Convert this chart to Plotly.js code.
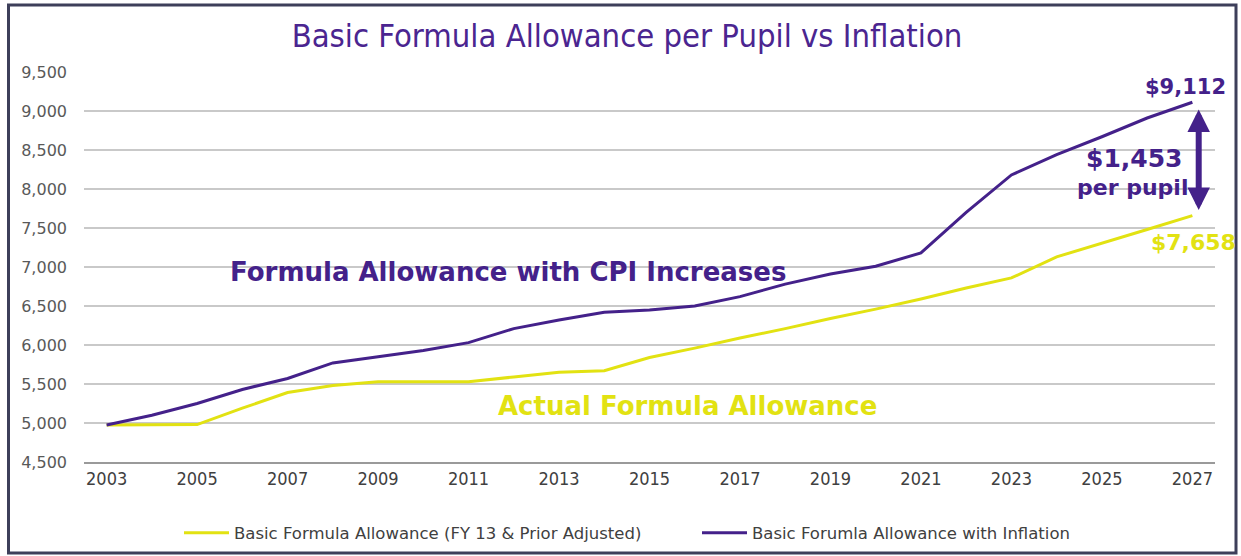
<!DOCTYPE html>
<html>
<head>
<meta charset="utf-8">
<script src="https://cdn.plot.ly/plotly-3.0.1.min.js"></script>
<style>
  html, body { margin: 0; padding: 0; background: #ffffff; }
  #chart { width: 1241px; height: 556px; }
</style>
</head>
<body>
<div id="chart"></div>
<script>
// ---- Data ----
const years = [2003, 2004, 2005, 2006, 2007, 2008, 2009, 2010, 2011, 2012, 2013, 2014, 2015,
               2016, 2017, 2018, 2019, 2020, 2021, 2022, 2023, 2024, 2025, 2026, 2027];
const actualAllowance = [4975, 4980, 4980, 5190, 5390, 5480, 5530, 5530, 5530, 5590, 5650, 5670, 5840,
                         5960, 6090, 6210, 6340, 6460, 6590, 6730, 6860, 7130, 7300, 7480, 7658];
const inflationAllowance = [4975, 5100, 5250, 5430, 5570, 5770, 5850, 5930, 6030, 6210, 6320, 6420, 6450,
                            6500, 6620, 6780, 6910, 7010, 7180, 7700, 8180, 8440, 8670, 8910, 9112];
const seriesNames = ['Basic Formula Allowance (FY 13 & Prior Adjusted)', 'Basic Forumla Allowance with Inflation'];
const yTicks = [4500, 5000, 5500, 6000, 6500, 7000, 7500, 8000, 8500, 9000, 9500];
const xTicks = [2003, 2005, 2007, 2009, 2011, 2013, 2015, 2017, 2019, 2021, 2023, 2025, 2027];

const PURPLE = '#44218a';
const YELLOW = '#e2e212';
const SANS = '"DejaVu Sans", Verdana, sans-serif';
const NARROW = '"Liberation Sans Narrow", "DejaVu Sans Condensed", sans-serif';

// layout geometry
const W = 1241, H = 556;
const M = { l: 84, r: 26, t: 72, b: 94, autoexpand: false };
const PW = W - M.l - M.r, PH = H - M.t - M.b;
const px = x => (x - M.l) / PW;
const py = y => (H - M.b - y) / PH;

const traces = [
  {
    x: years, y: actualAllowance, name: seriesNames[0], type: 'scatter', mode: 'lines',
    line: { color: YELLOW, width: 3 }, legend: 'legend'
  },
  {
    x: years, y: inflationAllowance, name: seriesNames[1], type: 'scatter', mode: 'lines',
    line: { color: PURPLE, width: 3 }, legend: 'legend2'
  }
];

const legendStyle = (xpix) => ({
  orientation: 'h',
  x: px(xpix), xanchor: 'left',
  y: py(533), yanchor: 'middle',
  font: { family: SANS, size: 16.5, color: '#404040' },
  itemwidth: 45,
  tracegroupgap: 0,
  bgcolor: 'rgba(0,0,0,0)'
});

const last = years.length - 1;
const arrowX = 2027.14;

const layout = {
  width: W, height: H,
  margin: M,
  paper_bgcolor: '#ffffff',
  plot_bgcolor: '#ffffff',
  showlegend: true,
  title: {
    text: 'Basic Formula Allowance per Pupil vs Inflation',
    font: { family: NARROW, size: 32.5, color: '#4b2590' },
    xref: 'container', x: 627 / W, xanchor: 'center',
    yref: 'container', y: 1 - 36 / H, yanchor: 'middle'
  },
  xaxis: {
    range: [2002.5, 2027.5],
    tickmode: 'array', tickvals: xTicks, ticktext: xTicks.map(String),
    showgrid: false, zeroline: false,
    showline: true, linecolor: '#9a9a9a', linewidth: 1.5,
    ticks: '',
    tickfont: { family: NARROW, size: 18, color: '#404040' },
    fixedrange: true
  },
  yaxis: {
    range: [4500, 9500],
    tickmode: 'array', tickvals: yTicks, ticktext: yTicks.map(v => v.toLocaleString('en-US')),
    showgrid: true, gridcolor: '#c9c9c9', gridwidth: 1.5,
    zeroline: false, showline: false, ticks: '',
    ticklabelstandoff: 16,
    tickfont: { family: SANS, size: 16, color: '#595959' },
    fixedrange: true
  },
  legend: legendStyle(179),
  legend2: legendStyle(697),
  annotations: [
    {
      x: years[last] - 0.15, y: 9308, xref: 'x', yref: 'y', showarrow: false,
      text: '$' + inflationAllowance[last].toLocaleString('en-US'),
      font: { family: SANS, size: 21, color: PURPLE, weight: 'bold' },
      xanchor: 'center', yanchor: 'middle'
    },
    {
      x: years[last] + 0.03, y: 7320, xref: 'x', yref: 'y', showarrow: false,
      text: '$' + actualAllowance[last].toLocaleString('en-US'),
      font: { family: SANS, size: 22, color: YELLOW, weight: 'bold' },
      xanchor: 'center', yanchor: 'middle'
    },
    {
      x: 2025.72, y: 8397, xref: 'x', yref: 'y', showarrow: false,
      text: '$' + (inflationAllowance[last] - actualAllowance[last] - 1).toLocaleString('en-US'),
      font: { family: SANS, size: 25, color: PURPLE, weight: 'bold' },
      xanchor: 'center', yanchor: 'middle'
    },
    {
      x: 2025.68, y: 8013, xref: 'x', yref: 'y', showarrow: false,
      text: 'per pupil',
      font: { family: SANS, size: 22, color: PURPLE, weight: 'bold' },
      xanchor: 'center', yanchor: 'middle'
    },
    {
      x: arrowX, y: 7731, ax: arrowX, ay: 9038, xref: 'x', yref: 'y', axref: 'x', ayref: 'y',
      text: '', showarrow: true, arrowhead: 2, arrowside: 'end+start',
      arrowwidth: 6, arrowsize: 0.75, arrowcolor: PURPLE, standoff: 0, startstandoff: 0
    },
    {
      x: 2011.87, y: 6936, xref: 'x', yref: 'y', showarrow: false,
      text: 'Formula Allowance with CPI Increases',
      font: { family: SANS, size: 26, color: PURPLE, weight: 'bold' },
      xanchor: 'center', yanchor: 'middle'
    },
    {
      x: 2015.83, y: 5218, xref: 'x', yref: 'y', showarrow: false,
      text: 'Actual Formula Allowance',
      font: { family: SANS, size: 26, color: YELLOW, weight: 'bold' },
      xanchor: 'center', yanchor: 'middle'
    }
  ],
  shapes: [
    {
      type: 'rect', xref: 'paper', yref: 'paper',
      x0: px(8.5), x1: px(1236), y0: py(553), y1: py(5),
      line: { color: '#3d3f5a', width: 3 }, fillcolor: 'rgba(0,0,0,0)', layer: 'above'
    }
  ]
};

Plotly.newPlot('chart', traces, layout, { displayModeBar: false, staticPlot: true });
</script>
</body>
</html>
